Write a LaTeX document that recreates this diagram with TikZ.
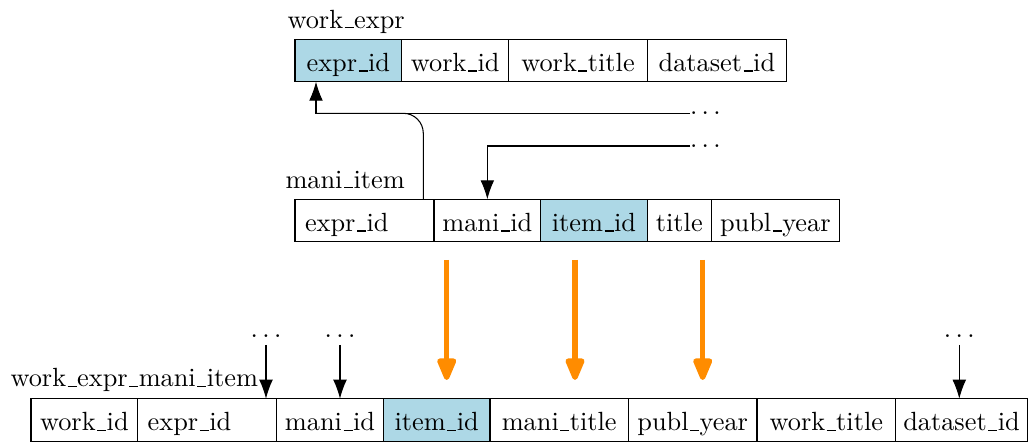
\documentclass[tikz,border=0pt]{standalone}
\usetikzlibrary{arrows.meta}
\definecolor{keyblue}{RGB}{173,216,230}
\definecolor{flow}{RGB}{255,140,0}
% underscore as a low rule, as in classic LaTeX
\newcommand\us{\leavevmode\kern.06em\vbox{\hrule width.34em}\kern.02em}
% spaced ellipsis
\newcommand\etc{.\kern\fontdimen3\font.\kern\fontdimen3\font.}
\begin{document}
\begin{tikzpicture}[x=0.38pt,y=-0.38pt,
  cell/.style={draw, anchor=west, outer sep=0pt, minimum width={#1*0.38pt},
    minimum height={42.4*0.38pt}, inner ysep=0pt, inner xsep=1pt,
    text height=10.2pt, text depth=1.8pt},
  lcell/.style={cell=#1, align=left, inner xsep=3.8pt},
  key/.style={fill=keyblue},
  tlabel/.style={anchor=base west, inner sep=0pt},
  dots/.style={inner sep=0pt, outer sep=0pt},
  arr/.style={-{Latex[length=7.2pt,width=5.2pt]}},
  flowarrow/.style={draw=flow, line width=2pt}]
\useasboundingbox (0,0) rectangle (1028,442);

% ---- table work_expr ----
\node[tlabel] (lwe) at (287,28.3) {work\us expr};
\node[cell=106.7, key] (we1) at (295,60.5) {expr\us id};
\node[cell=107]   (we2) at (we1.east) {work\us id};
\node[cell=138.6] (we3) at (we2.east) {work\us title};
\node[cell=139.2] (we4) at (we3.east) {dataset\us id};

% ---- table mani_item ----
\node[tlabel] (lmi) at (285,188.3) {mani\us item};
\node[lcell=139, text width=45.22pt] (mi1) at (295,220.5) {expr\us id};
\node[cell=106.7] (mi2) at (mi1.east) {mani\us id};
\node[cell=106.6, key] (mi3) at (mi2.east) {item\us id};
\node[cell=64]    (mi4) at (mi3.east) {title};
\node[cell=128]   (mi5) at (mi4.east) {publ\us year};

% ---- table work_expr_mani_item ----
\node[tlabel] (lwm) at (10,386.7) {work\us expr\us mani\us item};
\node[cell=106.7] (b1) at (31,419.9) {work\us id};
\node[lcell=139, text width=45.22pt] (b2) at (b1.east) {expr\us id};
\node[cell=106.6] (b3) at (b2.east) {mani\us id};
\node[cell=106.7, key] (b4) at (b3.east) {item\us id};
\node[cell=138.5] (b5) at (b4.east) {mani\us title};
\node[cell=128.5] (b6) at (b5.east) {publ\us year};
\node[cell=138.6] (b7) at (b6.east) {work\us title};
\node[cell=131.8] (b8) at (b7.east) {dataset\us id};

% ---- references into work_expr and mani_item ----
\node[dots, anchor=west] (dA) at (690,113.3) {\etc};
\node[dots, anchor=west] (dB) at (690,146) {\etc};
\coordinate (bend) at (316,113.3);
\draw[arr] (dA.west) -- (bend) -- (bend |- we1.south);
\draw[rounded corners=7.6pt] (mi1.north east) ++(-10.7,0) |- (bend);
\draw[arr] (dB.west) -| (mi2.north);

% ---- references into work_expr_mani_item ----
\node[dots] (dC) at (266,336.5) {\etc};
\node[dots] (dD) at (340,336.5) {\etc};
\node[dots] (dE) at (959.3,336.5) {\etc};
\draw[arr, shorten <=2.7pt] (dC.south) -- (dC.south |- b2.north);
\draw[arr, shorten <=2.7pt] (dD.south) -- (dD.south |- b3.north);
\draw[arr, shorten <=2.7pt] (dE.south) -- (dE.south |- b8.north);

% ---- copied columns ----
\coordinate (f1s) at (446.7,260); \coordinate (f1e) at (446.7,380);
\coordinate (f2s) at (575,260);   \coordinate (f2e) at (575,380);
\coordinate (f3s) at (702.7,260); \coordinate (f3e) at (702.7,380);
\draw[flowarrow, -{Triangle[length=10pt,width=7.6pt,round]}] (f1s) -- (f1e);
\draw[flowarrow, -{Triangle[length=10pt,width=7.6pt,round]}] (f2s) -- (f2e);
\draw[flowarrow, -{Triangle[length=10pt,width=7.6pt,round]}] (f3s) -- (f3e);
\end{tikzpicture}
\end{document}
